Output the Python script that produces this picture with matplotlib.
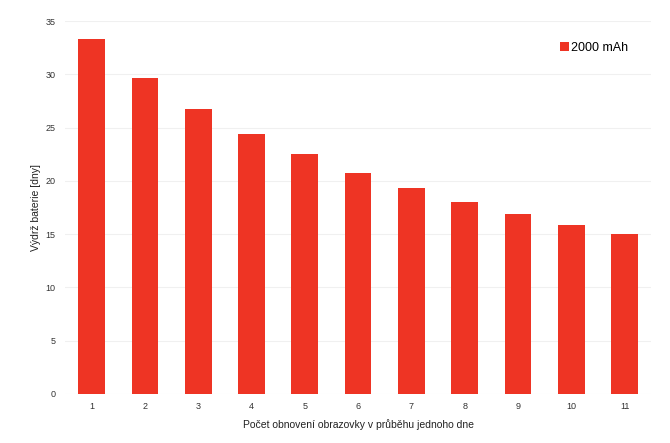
import matplotlib
matplotlib.use('Agg')
import matplotlib.pyplot as plt
import numpy as np

plt.rcParams['font.family'] = ['Liberation Sans', 'DejaVu Sans']

# data
refresh_counts = [1, 2, 3, 4, 5, 6, 7, 8, 9, 10, 11]
battery_days = [33.3, 29.7, 26.8, 24.4, 22.5, 20.7, 19.3, 18.0, 16.9, 15.9, 15.0]
series_label = '2000 mAh'
yticks = [0, 5, 10, 15, 20, 25, 30, 35]

bar_color = '#ee3424'

fig = plt.figure(figsize=(6.7, 4.43), dpi=100)
ax = fig.add_axes([0.097, 0.111, 0.875, 0.841])

ax.bar(refresh_counts, battery_days, width=0.5, color=bar_color, label=series_label, zorder=2)

ax.set_xlim(0.5, 11.5)
ax.set_ylim(0, 35)
ax.set_xticks(refresh_counts)
ax.set_yticks(yticks)
ax.tick_params(axis='x', length=0, labelsize=6.5, colors='#333333', pad=6)
ax.tick_params(axis='y', length=0, labelsize=6.5, colors='#333333', pad=7)
ax.grid(True, axis='y', color='#f0f0f0', linewidth=0.8, zorder=0)

for s in ax.spines.values():
    s.set_visible(False)

ax.set_xlabel('Počet obnovení obrazovky v průběhu jednoho dne', fontsize=7.5, color='#222222', labelpad=6)
ax.set_ylabel('Výdrž baterie [dny]', fontsize=7.5, color='#222222', labelpad=3)

ax.legend(loc='upper right', bbox_to_anchor=(0.98, 0.975), frameon=False, fontsize=9,
          handlelength=0.7, handleheight=0.7, handletextpad=0.2)

plt.savefig('out.png', dpi=100)
